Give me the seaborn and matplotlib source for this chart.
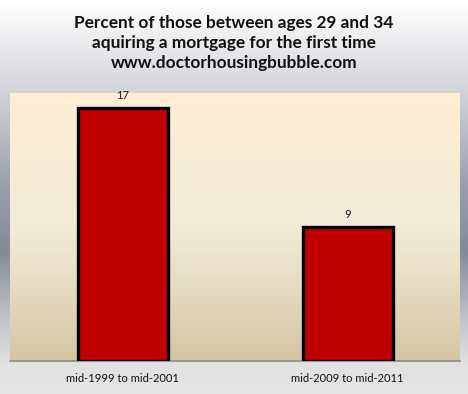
import numpy as np
import pandas as pd
import matplotlib
matplotlib.use('Agg')
import matplotlib.pyplot as plt
from matplotlib.colors import LinearSegmentedColormap
import matplotlib.patheffects as pe
import seaborn as sns

# --- DATA ---
periods = ['mid-1999 to mid-2001', 'mid-2009 to mid-2011']
pct_first_mortgage = [17, 9]
title = ('Percent of those between ages 29 and 34\n'
         'aquiring a mortgage for the first time\n'
         'www.doctorhousingbubble.com')

df = pd.DataFrame({'period': periods, 'pct': pct_first_mortgage})

sns.set_style('white')
plt.rcParams['font.family'] = ['Lato', 'DejaVu Sans']

fig = plt.figure(figsize=(4.68, 3.94), dpi=100)

# figure background gradient (white -> slate gray -> light gray)
bg = fig.add_axes([0, 0, 1, 1], zorder=-10)
bg_cmap = LinearSegmentedColormap.from_list(
    'bg', [(0.0, '#ffffff'), (0.23, '#d3d4da'), (0.47, '#9a9eae'),
           (0.64, '#858a9b'), (0.82, '#c4c6cd'), (0.93, '#e2e2e2'),
           (1.0, '#e4e4e4')])
bg.imshow(np.linspace(0, 1, 256).reshape(-1, 1), cmap=bg_cmap,
          aspect='auto', extent=[0, 1, 1, 0])
bg.axis('off')

ax = fig.add_axes([10 / 468, 1 - 361 / 394, 450 / 468, 268 / 394])
ax.patch.set_alpha(0)

# plot area gradient (cream at top -> tan at bottom)
pa_cmap = LinearSegmentedColormap.from_list(
    'pa', [(0.0, '#fdeed3'), (0.5, '#f1ecd8'), (1.0, '#d4c6a4')])
ax.imshow(np.linspace(0, 1, 256).reshape(-1, 1), cmap=pa_cmap,
          aspect='auto', extent=[-0.5, 1.5, 0, 18], zorder=0)

sns.barplot(data=df, x='period', y='pct', color='#c00000', width=0.4,
            saturation=1, edgecolor='black', linewidth=2.4, ax=ax, zorder=3)
for bar in ax.patches:
    bar.set_path_effects([pe.SimplePatchShadow(offset=(2, -1), alpha=0.25),
                          pe.Normal()])

for i, v in enumerate(pct_first_mortgage):
    ax.text(i, v + 0.45, str(v), ha='center', va='bottom', fontsize=8,
            color='#1a1a2e')

ax.set_xlim(-0.5, 1.5)
ax.set_ylim(0, 18)
ax.set_xlabel('')
ax.set_ylabel('')
ax.set_yticks([])
ax.tick_params(axis='x', length=0, pad=9, labelsize=8, labelcolor='#111111')
for s in ['top', 'left', 'right']:
    ax.spines[s].set_visible(False)
ax.spines['bottom'].set_color('#8c8c8c')
ax.spines['bottom'].set_linewidth(1.2)

fig.text(0.5, 1 - 43 / 394, title, ha='center', va='center',
         fontsize=12.4, fontweight='bold', linespacing=1.3, color='#111111')

fig.savefig('out.png', dpi=100)
